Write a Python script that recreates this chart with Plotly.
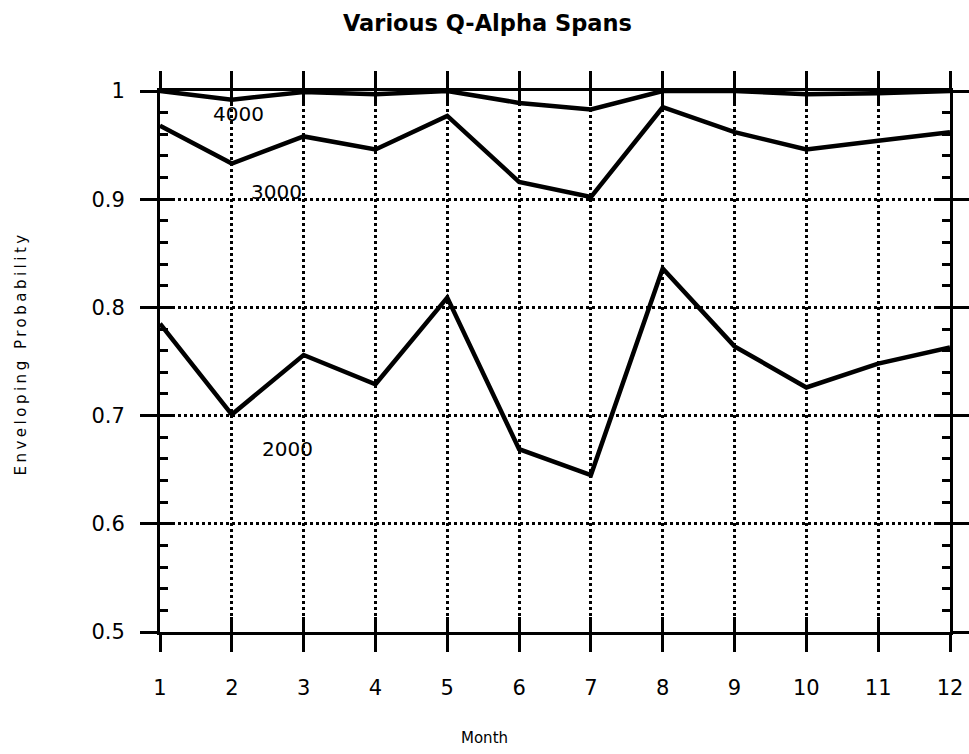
import plotly.graph_objects as go

# Monthly enveloping probability for three Q-Alpha span settings
months = [1, 2, 3, 4, 5, 6, 7, 8, 9, 10, 11, 12]
span_2000 = [0.785, 0.701, 0.756, 0.729, 0.809, 0.669, 0.645, 0.836, 0.764, 0.726, 0.748, 0.763]
span_3000 = [0.968, 0.933, 0.958, 0.946, 0.977, 0.916, 0.902, 0.985, 0.962, 0.946, 0.954, 0.962]
span_4000 = [1.0, 0.992, 0.999, 0.997, 1.0, 0.989, 0.983, 1.0, 1.0, 0.997, 0.998, 1.0]

y_ticks = [0.5, 0.6, 0.7, 0.8, 0.9, 1.0]
y_tick_text = ["0.5", "0.6", "0.7", "0.8", "0.9", "1"]
x_tick_text = [str(m) for m in months]

# Curve labels: (text, x, y)
curve_labels = [("4000", 2.09, 0.979), ("3000", 2.62, 0.907), ("2000", 2.78, 0.669)]

SANS = "DejaVu Sans, Verdana, sans-serif"
TICK_FONT = dict(family=SANS, size=21, color="black")
TITLE_FONT = dict(family=SANS, size=15, color="black")

fig = go.Figure()
for series in (span_2000, span_3000, span_4000):
    fig.add_trace(go.Scatter(x=months, y=series, mode="lines",
                             line=dict(color="black", width=4.5),
                             hoverinfo="skip"))

# Invisible companion trace so the overlay axes (inside ticks) are drawn
fig.add_trace(go.Scatter(x=months, y=span_2000, mode="lines", xaxis="x2", yaxis="y2",
                         line=dict(color="rgba(0,0,0,0)", width=0), hoverinfo="skip"))

for text, lx, ly in curve_labels:
    fig.add_annotation(x=lx, y=ly, text=text, showarrow=False,
                       font=dict(family=SANS, size=20, color="black"))

# Axis titles, centred on the page rather than on the plot area
fig.add_annotation(text="Month", xref="paper", yref="paper",
                   x=(484.5 - 160) / 790, y=(632 - 738) / 541,
                   xanchor="center", yanchor="middle", showarrow=False, font=TITLE_FONT)
fig.add_annotation(text='<span style="letter-spacing:3.5px">Enveloping Probability</span>',
                   xref="paper", yref="paper",
                   x=(20 - 160) / 790, y=(632 - 353.5) / 541, textangle=-90,
                   xanchor="center", yanchor="middle", showarrow=False,
                   font=dict(family=SANS, size=15, color="black"))

fig.update_layout(
    width=969, height=754,
    margin=dict(l=160, r=19, t=91, b=122),
    paper_bgcolor="white", plot_bgcolor="white",
    showlegend=False,
    title=dict(text="<b>Various Q-Alpha Spans</b>", x=0.503, xref="container", xanchor="center",
               y=1 - 23 / 754, yref="container", yanchor="middle",
               font=dict(family=SANS, size=22.5, color="black")),
    xaxis=dict(range=[1, 12], tickvals=months, ticktext=x_tick_text,
               ticks="outside", ticklen=17, tickwidth=3, tickcolor="black",
               showline=True, linewidth=3, linecolor="black", mirror="allticks",
               showgrid=True, gridcolor="black", gridwidth=2.5, griddash="dot",
               zeroline=False, tickfont=TICK_FONT, ticklabelstandoff=18,
               automargin=False),
    yaxis=dict(range=[0.5, 1.0], tickvals=y_ticks, ticktext=y_tick_text,
               ticks="outside", ticklen=17, tickwidth=3, tickcolor="black",
               showline=True, linewidth=3, linecolor="black", mirror="allticks",
               showgrid=True, gridcolor="black", gridwidth=2.5, griddash="dot",
               zeroline=False, tickfont=TICK_FONT, ticklabelstandoff=11,
               automargin=False),
    xaxis2=dict(range=[1, 12], tickvals=months, overlaying="x", anchor="y2",
                ticks="inside", ticklen=15, tickwidth=3, tickcolor="black",
                mirror="allticks", showline=False, showgrid=False, zeroline=False,
                showticklabels=False),
    yaxis2=dict(range=[0.5, 1.0], tickvals=y_ticks, overlaying="y", anchor="x2",
                ticks="inside", ticklen=15, tickwidth=3, tickcolor="black",
                minor=dict(ticks="inside", ticklen=8, tickwidth=3, tickcolor="black",
                           dtick=0.02, tick0=0.5, showgrid=False),
                mirror="allticks", showline=False, showgrid=False, zeroline=False,
                showticklabels=False),
)

fig.write_html("out.html")
